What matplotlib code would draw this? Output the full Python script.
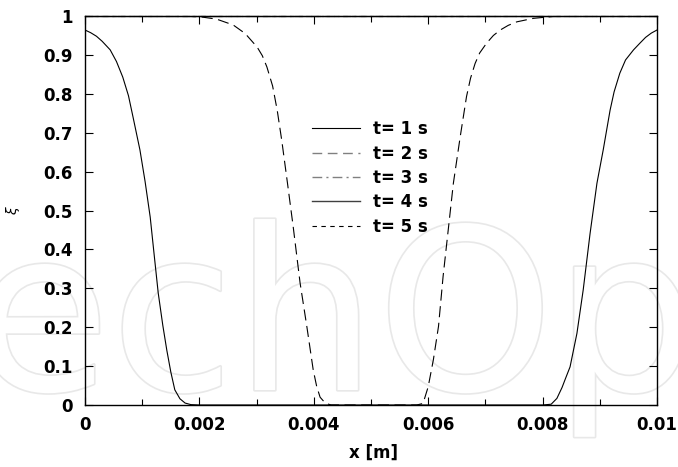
import matplotlib
matplotlib.use("Agg")
import matplotlib.pyplot as plt
from matplotlib.lines import Line2D
import matplotlib.patheffects as pe
import numpy as np

# ---- data ----
x_t1 = [0.0, 0.0001, 0.0002, 0.0003, 0.00044, 0.00055, 0.00066, 0.00076, 0.00084, 0.00096,
        0.00105, 0.00114, 0.00121, 0.00128, 0.00136, 0.00143, 0.0015,
        0.00157, 0.00166, 0.00175, 0.00185, 0.002, 0.005, 0.008, 0.00815, 0.00825,
        0.00834, 0.00840, 0.00848, 0.0086, 0.00871, 0.00883, 0.00895, 0.00906, 0.00918,
        0.00925, 0.00935, 0.00945, 0.00959, 0.0097, 0.0098, 0.0099, 0.01]
y_t1 = [0.964, 0.957, 0.948, 0.935, 0.913, 0.883, 0.843, 0.795, 0.740, 0.656,
        0.575, 0.483, 0.385, 0.288, 0.205, 0.141, 0.085,
        0.039, 0.016, 0.005, 0.001, 0.0, 0.0, 0.0, 0.002, 0.017,
        0.045, 0.068, 0.098, 0.184, 0.296, 0.441, 0.570, 0.656, 0.758,
        0.805, 0.853, 0.887, 0.913, 0.930, 0.945, 0.956, 0.964]

x_t2 = [0.0, 0.0016, 0.00201, 0.0023, 0.00259, 0.0028, 0.00301, 0.0031, 0.00318, 0.00328,
        0.00336, 0.00344, 0.00354, 0.00364, 0.00376, 0.00388, 0.00399, 0.00405, 0.00411,
        0.0042, 0.0043, 0.005,
        0.0057, 0.0058, 0.00591, 0.0060, 0.00609, 0.00618, 0.00626, 0.00635, 0.00644,
        0.00656, 0.00667, 0.00674, 0.00682, 0.0069, 0.00702, 0.00714, 0.00726, 0.0074,
        0.00755, 0.00784, 0.0082, 0.01]
y_t2 = [1.0, 1.0, 0.998, 0.992, 0.977, 0.955, 0.920, 0.898, 0.869, 0.820,
        0.758, 0.680, 0.570, 0.458, 0.314, 0.200, 0.090, 0.048, 0.020,
        0.005, 0.0, 0.0,
        0.0, 0.0, 0.004, 0.047, 0.116, 0.202, 0.330, 0.450, 0.570,
        0.690, 0.793, 0.840, 0.878, 0.905, 0.930, 0.950, 0.964, 0.976,
        0.985, 0.994, 0.999, 1.0]

x_flat = [0.0, 0.01]
y_t3 = [1.0, 1.0]
y_t4 = [1.0, 1.0]
y_t5 = [1.0, 1.0]

labels = ["t= 1 s", "t= 2 s", "t= 3 s", "t= 4 s", "t= 5 s"]
x_ticks = [0, 0.002, 0.004, 0.006, 0.008, 0.01]
x_tick_labels = ["0", "0.002", "0.004", "0.006", "0.008", "0.01"]
y_ticks = [0, 0.1, 0.2, 0.3, 0.4, 0.5, 0.6, 0.7, 0.8, 0.9, 1]
y_tick_labels = ["0", "0.1", "0.2", "0.3", "0.4", "0.5", "0.6", "0.7", "0.8", "0.9", "1"]

plt.rcParams['font.family'] = ['DejaVu Sans']

fig = plt.figure(figsize=(6.78, 4.67), dpi=100)
ax = fig.add_axes([85/678, 62/467, 572/678, 389/467])
ax.patch.set_alpha(0)

# watermark
wm = fig.text(-325/678, 77/467, "IntechOpen", fontsize=162, family='DejaVu Sans',
              color='white', ha='left', va='baseline', zorder=-5)
wm.set_path_effects([pe.Stroke(linewidth=2.4, foreground='#e8e8e8'), pe.Normal()])

lw = 0.8
ax.plot(x_t1, y_t1, color='black', lw=lw, ls='-')
ax.plot(x_t2, y_t2, color='black', lw=lw, ls=(0, (10, 5)))
ax.plot(x_flat, y_t3, color='black', lw=lw, ls=(0, (7, 3, 1.5, 3)), clip_on=False)
ax.plot(x_flat, y_t4, color='black', lw=lw, ls='-', clip_on=False)
ax.plot(x_flat, y_t5, color='black', lw=lw, ls=(0, (4, 4)), clip_on=False)

ax.set_xlim(0, 0.01)
ax.set_ylim(0, 1)
ax.set_xticks(x_ticks)
ax.set_xticklabels(x_tick_labels)
ax.set_xticks([0.001, 0.003, 0.005, 0.007, 0.009], minor=True)
ax.set_yticks(y_ticks)
ax.set_yticklabels(y_tick_labels)

for lab in ax.get_xticklabels() + ax.get_yticklabels():
    lab.set_fontweight('bold')
    lab.set_fontsize(12)

ax.tick_params(which='both', direction='in', top=True, right=True, width=0.8)
ax.tick_params(which='major', length=6)
ax.tick_params(which='minor', length=4)
ax.tick_params(axis='x', pad=8)
ax.tick_params(axis='y', pad=9)
for s in ax.spines.values():
    s.set_linewidth(1.0)

ax.set_xlabel("x [m]", fontsize=12, fontweight='bold')
ax.xaxis.set_label_coords(0.505, -0.100)
ax.set_ylabel(r"$\xi$", fontsize=10)
ax.yaxis.set_label_coords(-0.110, 0.5)

handles = [
    Line2D([], [], color='black', lw=lw, ls='-'),
    Line2D([], [], color='#808080', lw=1.0, ls=(0, (7, 4))),
    Line2D([], [], color='#808080', lw=1.0, ls=(0, (7, 3, 1.5, 3))),
    Line2D([], [], color='#404040', lw=1.0, ls='-'),
    Line2D([], [], color='black', lw=lw, ls=(0, (4, 4))),
]
leg = ax.legend(handles, labels, loc='upper left', bbox_to_anchor=(0.397, 0.732),
                frameon=False, borderpad=0, borderaxespad=0, handlelength=2.9,
                handletextpad=0.75, labelspacing=0.38,
                prop={'weight': 'bold', 'size': 12})

fig.savefig("out.png", dpi=100)
